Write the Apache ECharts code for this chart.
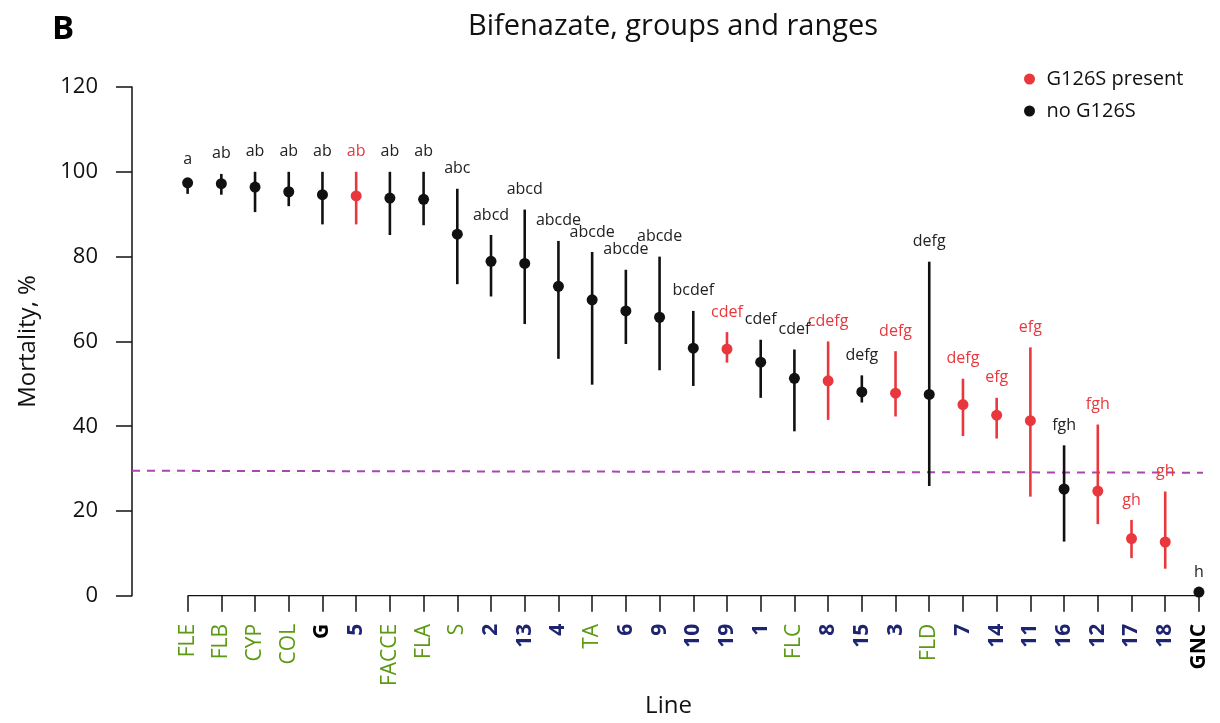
<!DOCTYPE html>
<html>
<head>
<meta charset="utf-8">
<script src="https://cdn.jsdelivr.net/npm/echarts@6/dist/echarts.min.js"></script>
<style>
  html, body { margin: 0; padding: 0; background: #fff; }
  #chart { width: 1220px; height: 723px; }
</style>
</head>
<body>
<div id="chart"></div>
<script>
// Lines, in plotting order
const lines = ['FLE','FLB','CYP','COL','G','5','FACCE','FLA','S','2','13','4','TA','6','9','10','19','1','FLC','8','15','3','FLD','7','14','11','16','12','17','18','GNC'];
// Mean mortality (%) and range
const meanMortality = [97.4,97.2,96.4,95.3,94.6,94.3,93.8,93.5,85.3,78.9,78.4,73.0,69.8,67.2,65.7,58.4,58.2,55.1,51.3,50.7,48.1,47.8,47.5,45.1,42.6,41.3,25.2,24.7,13.5,12.7,0.9];
const lowerMortality = [94.8,94.6,90.5,91.9,87.6,87.6,85.1,87.4,73.5,70.6,64.1,55.9,49.8,59.4,53.2,49.5,55.0,46.7,38.8,41.5,45.6,42.3,25.9,37.7,37.1,23.4,12.8,16.9,8.9,6.4,0.9];
const upperMortality = [98.3,99.5,100,100,100,100,100,100,96.0,85.1,91.1,83.7,81.1,76.9,80.0,67.2,62.2,60.4,58.1,60.0,52.0,57.7,78.8,51.2,46.7,58.6,35.5,40.4,17.9,24.6,0.9];
// Significance group letters
const groupLetters = ['a','ab','ab','ab','ab','ab','ab','ab','abc','abcd','abcd','abcde','abcde','abcde','abcde','bcdef','cdef','cdef','cdef','cdefg','defg','defg','defg','defg','efg','efg','fgh','fgh','gh','gh','h'];
// 1 = G126S present, 0 = absent
const g126s = [0,0,0,0,0,1,0,0,0,0,0,0,0,0,0,0,1,0,0,1,0,1,0,1,1,1,0,1,1,1,0];
// Tick label style key per line: g = green, n = navy, k = black
const lineLabelKind = ['g','g','g','g','k','n','g','g','g','n','n','n','g','n','n','n','n','n','g','n','n','n','g','n','n','n','n','n','n','n','k'];
// Reference level (dashed)
const refLevel = [29.5, 29.05];
const yTicks = [0, 20, 40, 60, 80, 100, 120];

const RED = '#e8383d';
const DARK = '#111111';
const FONT = '"Open Sans", "Noto Sans", sans-serif';

function buildData(flag) {
  const out = [];
  lines.forEach((name, i) => {
    if (g126s[i] === flag) out.push([i, meanMortality[i], lowerMortality[i], upperMortality[i]]);
  });
  return out;
}

function makeRender(labelColor) {
  return function (params, api) {
    const i = api.value(0);
    const m = api.coord([i, api.value(1)]);
    const lo = api.coord([i, api.value(2)]);
    const hi = api.coord([i, api.value(3)]);
    const color = api.visual('color');
    return {
      type: 'group',
      children: [
        { type: 'line', shape: { x1: m[0], y1: lo[1], x2: m[0], y2: hi[1] },
          style: { stroke: color, lineWidth: 2.6 } },
        { type: 'circle', shape: { cx: m[0], cy: m[1], r: 5.5 },
          style: { fill: color } },
        { type: 'text', style: { text: groupLetters[i], x: m[0], y: hi[1] - 12,
          align: 'center', verticalAlign: 'bottom', fill: labelColor,
          font: '16px ' + FONT } }
      ]
    };
  };
}

const chart = echarts.init(document.getElementById('chart'), null, { renderer: 'canvas' });
const tickIdx = lines.map((_, i) => i);

chart.setOption({
  animation: false,
  backgroundColor: '#ffffff',
  textStyle: { fontFamily: FONT },
  title: [
    { text: 'B', left: 47, top: 8, textStyle: { fontSize: 33, fontWeight: 'bold', color: '#000', fontFamily: FONT } },
    { text: 'Bifenazate, groups and ranges', left: 668, textAlign: 'center', top: 7,
      textStyle: { fontSize: 29, fontWeight: 'normal', color: '#111', fontFamily: FONT } }
  ],
  legend: {
    orient: 'vertical',
    left: 1019,
    top: 64,
    itemWidth: 24,
    itemHeight: 11,
    itemGap: 12,
    textStyle: { fontSize: 20, color: '#111', fontFamily: FONT },
    data: [
      { name: 'G126S present', icon: 'circle' },
      { name: 'no G126S', icon: 'circle' }
    ]
  },
  grid: { left: 132, right: 15, top: 87, bottom: 124.5, containLabel: false },
  xAxis: {
    type: 'value',
    min: -1.65,
    max: 30.18,
    name: 'Line',
    nameLocation: 'middle',
    nameGap: 96,
    nameTextStyle: { fontSize: 24, color: '#111', fontFamily: FONT },
    axisLine: { show: false, onZero: false },
    splitLine: { show: false },
    axisTick: { show: true, customValues: tickIdx, length: 16, lineStyle: { color: '#111', width: 1.5 } },
    axisLabel: {
      customValues: tickIdx,
      rotate: 90,
      margin: 28,
      formatter: (v) => {
        const i = Math.round(v);
        return '{' + lineLabelKind[i] + '|' + lines[i] + '}';
      },
      rich: {
        g: { color: '#5b9a12', fontSize: 21, fontFamily: FONT },
        n: { color: '#1e2470', fontSize: 21, fontWeight: 'bold', fontFamily: FONT },
        k: { color: '#000', fontSize: 21, fontWeight: 'bold', fontFamily: FONT }
      }
    }
  },
  yAxis: {
    type: 'value',
    min: 0,
    max: 120,
    interval: 20,
    name: 'Mortality, %',
    nameLocation: 'middle',
    nameGap: 92,
    nameTextStyle: { fontSize: 24, color: '#111', fontFamily: FONT },
    axisLine: { show: true, onZero: false, lineStyle: { color: '#111', width: 1.5 } },
    axisTick: { show: true, length: 16, lineStyle: { color: '#111', width: 1.5 } },
    axisLabel: { fontSize: 22, color: '#111', margin: 34, fontFamily: FONT,
      customValues: yTicks },
    splitLine: { show: false }
  },
  series: [
    {
      name: 'baseline',
      type: 'line',
      data: [[0, 0], [lines.length - 1, 0]],
      showSymbol: false,
      silent: true,
      lineStyle: { color: '#111', width: 1.5 },
      z: 1
    },
    {
      name: 'reference',
      type: 'line',
      data: [[-1.65, refLevel[0]], [30.12, refLevel[1]]],
      showSymbol: false,
      silent: true,
      lineStyle: { color: '#a846b4', width: 2, type: [8, 7] },
      z: 1
    },
    {
      name: 'G126S present',
      type: 'custom',
      renderItem: makeRender(RED),
      itemStyle: { color: RED },
      data: buildData(1),
      z: 3
    },
    {
      name: 'no G126S',
      type: 'custom',
      renderItem: makeRender('#222'),
      itemStyle: { color: DARK },
      data: buildData(0),
      z: 3
    }
  ]
});
</script>
</body>
</html>
